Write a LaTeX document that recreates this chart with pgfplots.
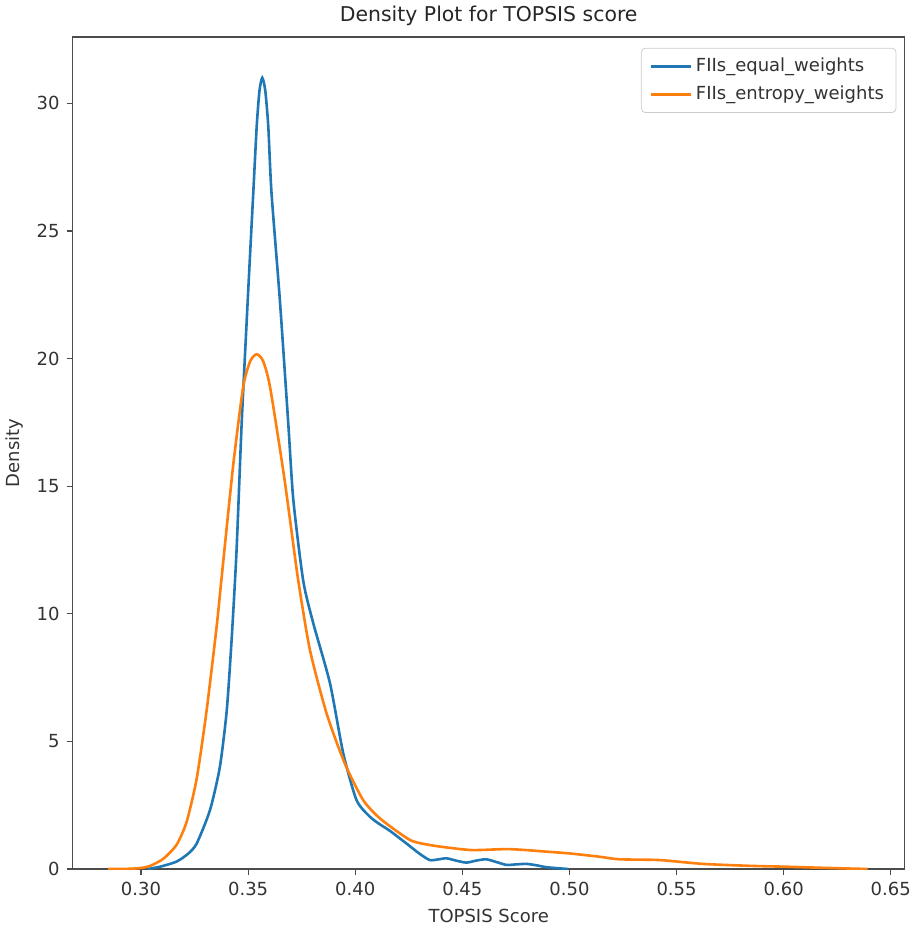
\documentclass[border=0pt]{standalone}
\usepackage{fontspec}
\setmainfont{DejaVu Sans}
\usepackage{pgfplots}
\pgfplotsset{compat=1.18}

\definecolor{mplblue}{HTML}{1F77B4}
\definecolor{mplorange}{HTML}{FF7F0E}

\begin{document}
\begin{tikzpicture}
\begin{axis}[
  name=ax,
  width=416pt, height=416pt, scale only axis,
  xmin=0.2681, xmax=0.6565, ymin=0, ymax=32.6,
  xtick={0.30,0.35,...,0.651}, ytick={0,5,...,30},
  xticklabel style={/pgf/number format/.cd,fixed,fixed zerofill,precision=2},
  /pgf/number format/assume math mode=true,
  tick label style={font=\fontsize{9}{10}\selectfont, text=black!80},
  label style={font=\fontsize{9}{10}\selectfont, text=black!80},
  tick align=outside, tick pos=left, major tick length=3pt,
  every tick/.style={black!70, line width=0.6pt},
  axis line style={black!70, line width=0.6pt},
  xlabel={TOPSIS Score}, ylabel={Density},
  title={Density Plot for TOPSIS score},
  title style={font=\fontsize{10.2}{12}\selectfont, text=black!85, yshift=-4pt},
  legend style={at={(axis description cs:0.99,0.987)}, anchor=north east,
    draw=black!20, rounded corners=2pt, font=\fontsize{9}{11}\selectfont,
    text=black!80, row sep=1.5pt, inner xsep=4pt, inner ysep=3pt},
  legend cell align=left,
  legend image code/.code={\draw[#1] (0pt,0pt) -- (20pt,0pt);},
]
\addplot[mplblue, line width=1.3pt, smooth, tension=0.4] coordinates {
(0.3030,0.00) (0.3089,0.09) (0.3166,0.29) (0.3220,0.60) (0.3260,1.00)
(0.3322,2.31) (0.3368,4.00) (0.3400,6.20) (0.3423,9.00) (0.3446,12.5)
(0.3470,17.5) (0.3500,22.6) (0.3524,26.5) (0.3540,29.1) (0.3553,30.5)
(0.3566,31.0) (0.3580,30.5)
(0.3594,29.1) (0.3609,26.5) (0.3648,22.3) (0.3687,17.5) (0.3711,14.46)
(0.3757,11.3) (0.3804,9.63) (0.3882,7.28) (0.3944,4.53) (0.4006,2.70)
(0.4068,2.05) (0.4115,1.75) (0.4161,1.50) (0.4239,1.00) (0.4300,0.60)
(0.4348,0.35) (0.4390,0.38) (0.4426,0.42) (0.4470,0.33) (0.4519,0.25)
(0.4565,0.33) (0.4612,0.38) (0.4660,0.27) (0.4706,0.16) (0.4750,0.18)
(0.4799,0.20) (0.4850,0.14) (0.4892,0.07) (0.4993,0.00)
};
\addlegendentry{FIIs\_equal\_weights}
\addplot[mplorange, line width=1.3pt, smooth, tension=0.4] coordinates {
(0.2846,0.00) (0.2950,0.01) (0.3000,0.04) (0.3042,0.12) (0.3104,0.40)
(0.3166,0.95) (0.3213,1.85) (0.3260,3.55) (0.3306,6.20) (0.3353,9.50)
(0.3376,11.4) (0.3430,15.8) (0.3477,18.9) (0.3510,19.9) (0.3540,20.17)
(0.3570,19.9) (0.3602,18.9) (0.3664,15.6) (0.3700,13.4) (0.3734,11.3)
(0.3788,8.60) (0.3866,6.10) (0.3951,4.14) (0.4037,2.70) (0.4120,1.95)
(0.4255,1.14) (0.4348,0.94) (0.4450,0.82) (0.4550,0.74) (0.4706,0.78)
(0.4800,0.74) (0.4892,0.68) (0.5001,0.61) (0.5141,0.48) (0.5234,0.38)
(0.5421,0.35) (0.5623,0.20) (0.5856,0.12) (0.6011,0.09) (0.6167,0.05)
(0.6300,0.02) (0.6392,0.00)
};
\addlegendentry{FIIs\_entropy\_weights}
\end{axis}
\pgfresetboundingbox
\path[use as bounding box] ([shift={(-36.35pt,-31pt)}]ax.south west)
  rectangle ([shift={(7.5pt,18.5pt)}]ax.north east);
\end{tikzpicture}
\end{document}
